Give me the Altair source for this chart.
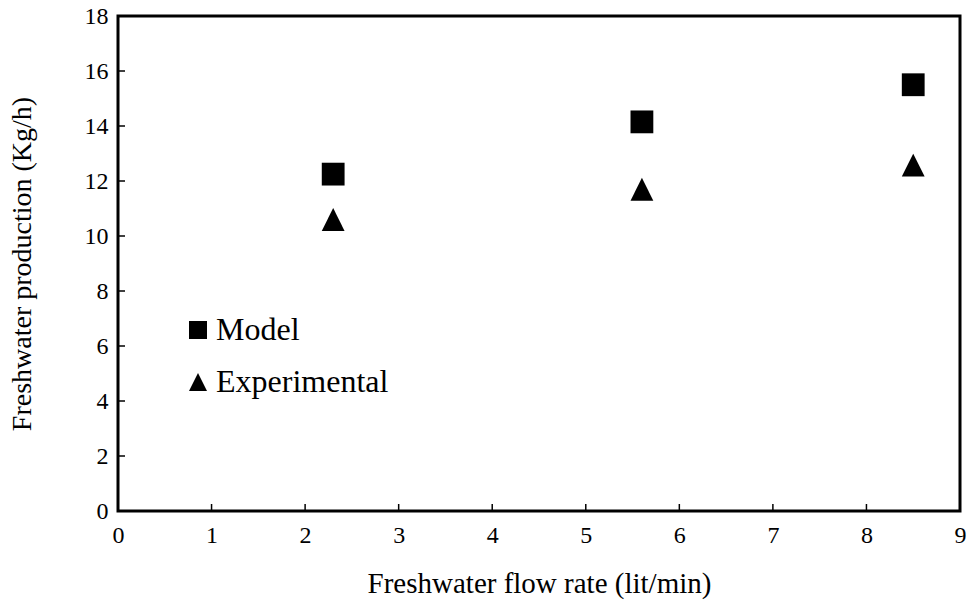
import altair as alt
import pandas as pd

flow_rate = [2.3, 5.6, 8.5]
model = [12.25, 14.15, 15.5]
experimental = [10.6, 11.7, 12.58]
series_names = ["Model", "Experimental"]
x_ticks = [0, 1, 2, 3, 4, 5, 6, 7, 8, 9]
y_ticks = [0, 2, 4, 6, 8, 10, 12, 14, 16, 18]

rows = []
for xv, m, e in zip(flow_rate, model, experimental):
    rows.append({"x": xv, "y": m, "series": "Model"})
    rows.append({"x": xv, "y": e, "series": "Experimental"})
df = pd.DataFrame(rows)

FONT = "Liberation Serif"
W, H = 842, 495

xscale = alt.Scale(domain=[0, 9], nice=False, zero=False)
yscale = alt.Scale(domain=[0, 18], nice=False, zero=False)

points = alt.Chart(df).mark_point(filled=True, opacity=1, color="black", size=520, strokeWidth=0).encode(
    x=alt.X("x:Q", scale=xscale, title="Freshwater flow rate (lit/min)",
            axis=alt.Axis(values=x_ticks, format="d", ticks=False, tickSize=0, domain=False, grid=False,
                          labelFlush=False, labelOverlap=False,
                          labelFont=FONT, labelFontSize=24, labelColor="black", labelPadding=12,
                          titleFont=FONT, titleFontSize=29, titleFontWeight="normal",
                          titleColor="black", titlePadding=22)),
    y=alt.Y("y:Q", scale=yscale, title="Freshwater production (Kg/h)",
            axis=alt.Axis(values=y_ticks, format="d", ticks=False, tickSize=0, domain=False, grid=False,
                          labelFlush=False, labelOverlap=False,
                          labelFont=FONT, labelFontSize=24, labelColor="black", labelPadding=10,
                          titleFont=FONT, titleFontSize=28, titleFontWeight="normal",
                          titleColor="black", titlePadding=48)),
    shape=alt.Shape("series:N",
                    scale=alt.Scale(domain=series_names, range=["square", "M0,-1L1,1L-1,1Z"]),
                    legend=alt.Legend(title=None, orient="none", legendX=64, legendY=298,
                                      labelFont=FONT, labelFontSize=32, labelColor="black", labelLimit=0,
                                      symbolSize=324, symbolFillColor="black", symbolStrokeColor="black",
                                      symbolStrokeWidth=0, labelOffset=2, rowPadding=20, padding=0)),
)

xt = pd.DataFrame({"v": x_ticks[1:-1]})
yt = pd.DataFrame({"v": y_ticks[1:-1]})

xtick_rules = alt.Chart(xt).mark_rule(color="black", strokeWidth=1.5).encode(
    x=alt.X("v:Q", scale=xscale), y=alt.value(H), y2=alt.value(H - 7))
ytick_rules = alt.Chart(yt).mark_rule(color="black", strokeWidth=1.5).encode(
    y=alt.Y("v:Q", scale=yscale), x=alt.value(0), x2=alt.value(7))

chart = alt.layer(xtick_rules, ytick_rules, points).properties(
    width=W, height=H,
    autosize=alt.AutoSizeParams(type="none"),
    padding={"left": 118, "top": 16, "right": 10, "bottom": 97},
    background="white",
).configure_view(stroke="black", strokeWidth=3)

chart.save("out.html", embed_options={"renderer": "svg", "actions": False})
